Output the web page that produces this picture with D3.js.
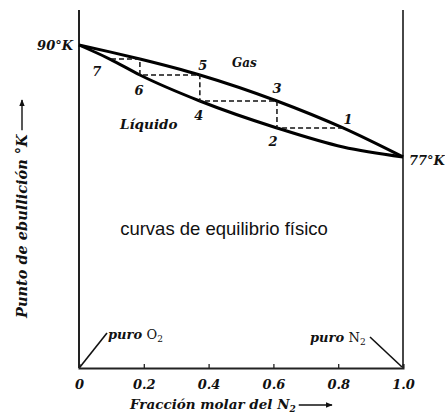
<!DOCTYPE html>
<html lang="es">
<head>
  <meta charset="UTF-8">
  <title>curvas de equilibrio</title>
  <script src="https://cdn.jsdelivr.net/npm/d3@7"></script>
  <style>
    body { margin: 0; background: #fff; }
    svg { display: block; }
    .bk { font-family: "DejaVu Serif", "Liberation Serif", serif; font-weight: bold; font-style: italic; fill: #111; }
    .axis line, .axis path { stroke: #222; }
  </style>
</head>
<body>
<script>
  // composicion (fraccion molar N2) y temperatura (K)
  var liquidX = [0, 0.095, 0.188, 0.373, 0.611, 0.815, 1];
  var liquidT = [90, 88.37, 86.52, 83.5, 80.37, 78.16, 77];
  var gasX = [0, 0.095, 0.188, 0.373, 0.611, 0.815, 1];
  var gasT = [90, 89.2, 88.37, 86.52, 83.5, 80.37, 77];

  // escalones de destilacion
  var stepX = [0.815, 0.611, 0.611, 0.373, 0.373, 0.188, 0.188, 0.095];
  var stepT = [80.37, 80.37, 83.5, 83.5, 86.52, 86.52, 88.37, 88.37];
  var stepLabel = ["1", "2", "3", "4", "5", "6", "", "7"];
  var labelDx = [5, -4, 0, -1, 3, -1, 0, -13];
  var labelDy = [-8, 14, -12, 15, -9, 16, 0, 13];

  var ticks = [0, 0.2, 0.4, 0.6, 0.8, 1.0];
  var tickLabels = ["0", "0.2", "0.4", "0.6", "0.8", "1.0"];

  var w = 445, h = 417;
  var svg = d3.select("body").append("svg").attr("width", w).attr("height", h);

  svg.append("defs").append("marker").attr("id", "arr")
    .attr("viewBox", "0 0 10 10").attr("refX", 9).attr("refY", 5)
    .attr("markerWidth", 7).attr("markerHeight", 7).attr("markerUnits", "userSpaceOnUse")
    .attr("orient", "auto")
    .append("path").attr("d", "M0,1 L10,5 L0,9 Z").attr("fill", "#111");

  var x = d3.scaleLinear().domain([0, 1]).range([79, 403]);
  var y = d3.scaleLinear().domain([52.5, 90]).range([368, 45]);

  // ejes
  svg.append("line").attr("x1", 79).attr("x2", 79).attr("y1", 10).attr("y2", 368)
    .attr("stroke", "#222").attr("stroke-width", 2);
  svg.append("line").attr("x1", 403).attr("x2", 403).attr("y1", 10).attr("y2", 368)
    .attr("stroke", "#333").attr("stroke-width", 1.8);

  var xAxis = d3.axisBottom(x).tickValues(ticks).tickSize(-4)
    .tickFormat(function (d, i) { return tickLabels[i]; });
  var ga = svg.append("g").attr("class", "axis").attr("transform", "translate(0,368)").call(xAxis);
  ga.select(".domain").attr("stroke-width", 2);
  ga.selectAll(".tick line").attr("stroke-width", 1.3);
  ga.selectAll(".tick text").attr("class", "bk").attr("font-size", 13).attr("dy", "1.3em")
    .attr("y", 4);

  // curvas
  var line = d3.line().curve(d3.curveMonotoneX)
    .x(function (d) { return x(d[0]); }).y(function (d) { return y(d[1]); });
  [[gasX, gasT], [liquidX, liquidT]].forEach(function (s) {
    svg.append("path").datum(d3.zip(s[0], s[1])).attr("d", line)
      .attr("fill", "none").attr("stroke", "#000").attr("stroke-width", 3);
  });

  // escalones
  var steps = d3.zip(stepX, stepT);
  svg.append("path").datum(steps)
    .attr("d", d3.line().x(function (d) { return x(d[0]); }).y(function (d) { return y(d[1]); }))
    .attr("fill", "none").attr("stroke", "#111").attr("stroke-width", 1.5)
    .attr("stroke-dasharray", "5,3");

  svg.selectAll(".num").data(steps).enter().append("text")
    .attr("class", "bk num").attr("font-size", 13).attr("text-anchor", "middle")
    .attr("x", function (d, i) { return x(d[0]) + labelDx[i]; })
    .attr("y", function (d, i) { return y(d[1]) + labelDy[i] + 4; })
    .text(function (d, i) { return stepLabel[i]; });

  svg.append("text").attr("class", "bk").attr("font-size", 12).attr("x", 232).attr("y", 67).text("Gas");
  svg.append("text").attr("class", "bk").attr("font-size", 13.5).attr("x", 120).attr("y", 129).text("Líquido");
  svg.append("text").attr("class", "bk").attr("font-size", 13).attr("x", 73).attr("y", 50)
    .attr("text-anchor", "end").text("90°K");
  svg.append("text").attr("class", "bk").attr("font-size", 13).attr("x", 409).attr("y", 165).text("77°K");

  // puro O2 / N2
  svg.append("line").attr("x1", 80).attr("y1", 367).attr("x2", 107).attr("y2", 333)
    .attr("stroke", "#111").attr("stroke-width", 1.6);
  svg.append("text").attr("class", "bk").attr("font-size", 13).attr("x", 108).attr("y", 339)
    .html('puro <tspan font-style="normal" font-weight="normal">O</tspan><tspan font-style="normal" font-weight="normal" font-size="9" dy="3">2</tspan>');
  svg.append("line").attr("x1", 370).attr("y1", 337).attr("x2", 402).attr("y2", 367)
    .attr("stroke", "#111").attr("stroke-width", 1.6);
  svg.append("text").attr("class", "bk").attr("font-size", 13).attr("x", 310).attr("y", 342)
    .html('puro <tspan font-style="normal" font-weight="normal">N</tspan><tspan font-style="normal" font-weight="normal" font-size="9" dy="3">2</tspan>');

  // titulos
  var xt = svg.append("text").attr("class", "bk").attr("font-size", 13.5).attr("x", 130).attr("y", 409)
    .html('Fracción molar del N<tspan font-size="9" dy="3">2</tspan>');
  var xEnd = 130 + xt.node().getComputedTextLength();
  svg.append("line").attr("x1", xEnd + 3).attr("x2", 332).attr("y1", 405).attr("y2", 405)
    .attr("stroke", "#111").attr("stroke-width", 1.4).attr("marker-end", "url(#arr)");

  var yt = svg.append("text").attr("class", "bk").attr("font-size", 14.5)
    .attr("transform", "translate(27,318) rotate(-90)")
    .text("Punto de ebullición °K");
  var yEnd = 318 - yt.node().getComputedTextLength();
  svg.append("line").attr("x1", 22).attr("x2", 22).attr("y1", yEnd - 4).attr("y2", 100)
    .attr("stroke", "#111").attr("stroke-width", 1.4).attr("marker-end", "url(#arr)");

  svg.append("text").attr("x", 224).attr("y", 235).attr("text-anchor", "middle")
    .attr("font-family", "'Liberation Sans', Arial, sans-serif").attr("font-size", 18.5)
    .attr("fill", "#111").text("curvas de equilibrio físico");
</script>
</body>
</html>
